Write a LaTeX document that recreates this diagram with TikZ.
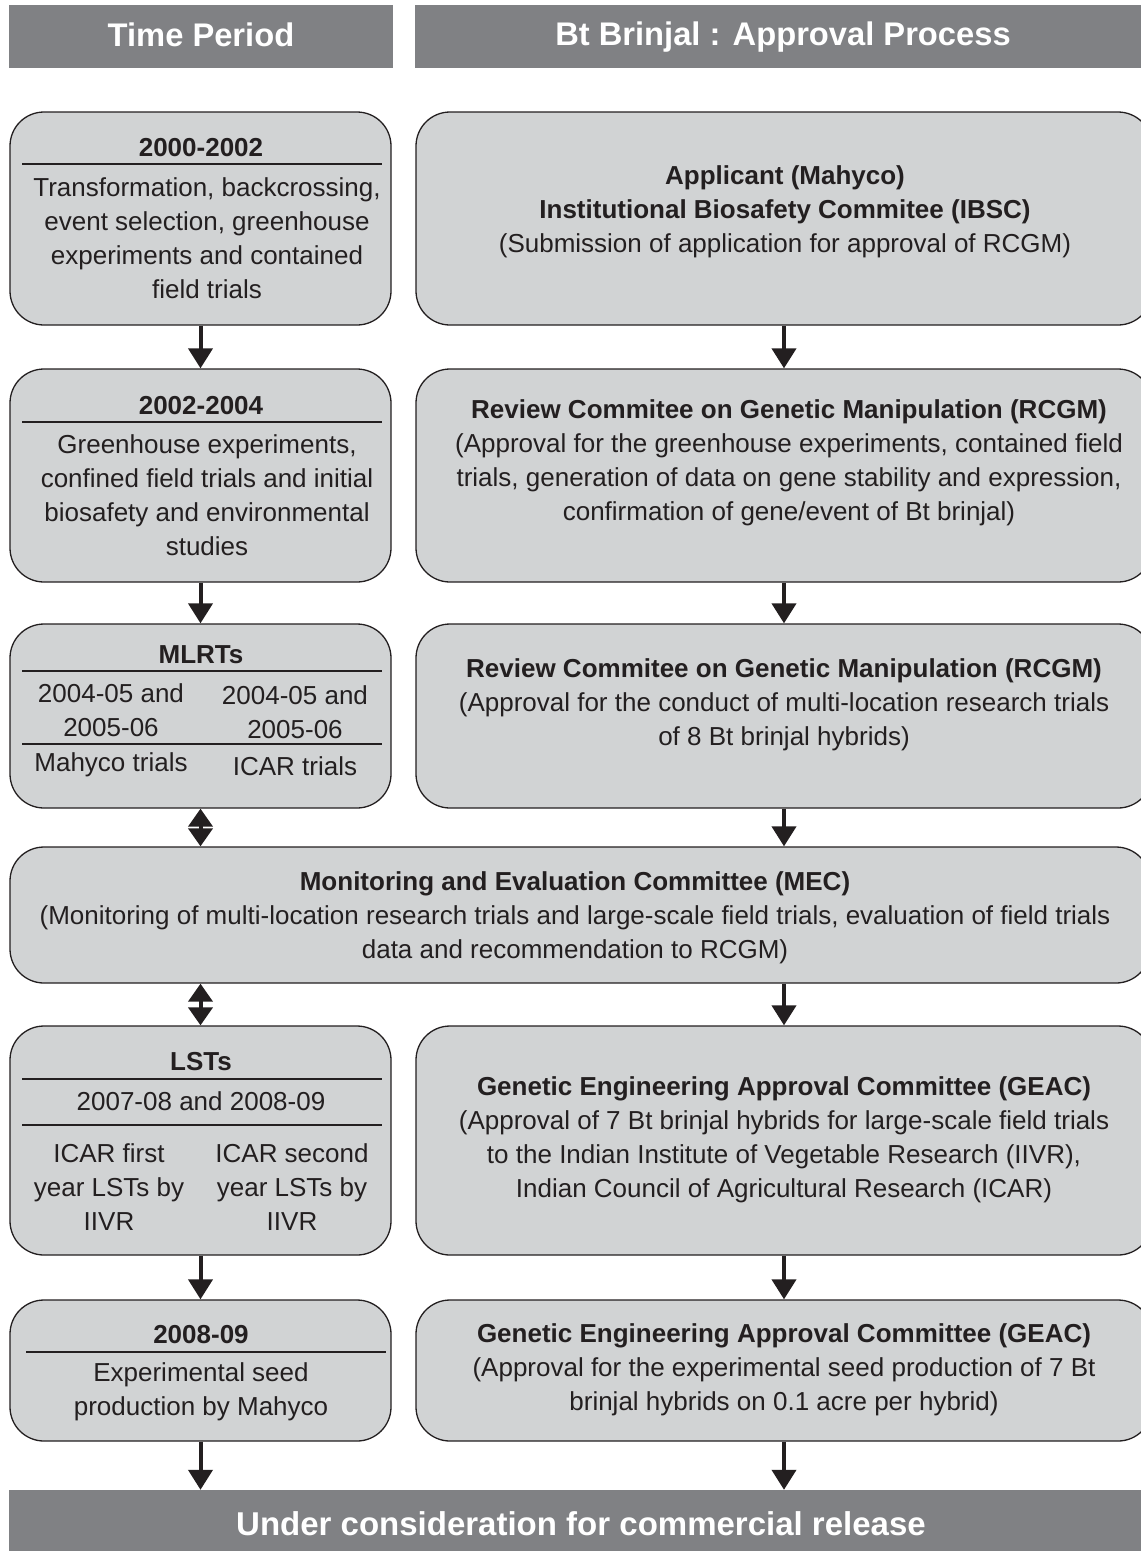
\documentclass[tikz,border=0pt]{standalone}
\usepackage{fontspec}
\setmainfont{Liberation Sans}
\usetikzlibrary{arrows.meta}
\definecolor{boxgray}{RGB}{209,211,212}
\definecolor{headgray}{RGB}{128,129,132}
\definecolor{ink}{RGB}{35,31,32}
\tikzset{
  box/.style={draw=ink, line width=1.3pt, fill=boxgray, rounded corners=34pt, inner sep=0pt},
  headbar/.style={fill=headgray, text=white, inner sep=0pt, font=\bfseries\fontsize{32.7}{38}\selectfont},
  txt/.style={align=center, text=ink, inner sep=0pt, yshift=-2.5pt, font=\fontsize{26}{34}\selectfont},
  ttl/.style={txt, yshift=2pt, font=\bfseries\fontsize{26}{34}\selectfont},
  rule/.style={draw=ink, line width=1.2pt},
  arr/.style={draw=ink, line width=4pt, -{Triangle[length=20pt,width=24pt]}},
  darr/.style={draw=ink, line width=4pt, {Triangle[length=18pt,width=24pt]}-{Triangle[length=18pt,width=24pt]}}
}
\begin{document}
\begin{tikzpicture}[x=1pt,y=-1pt]
    \useasboundingbox (0,0) rectangle (1141,1551);

    % Headers
    \node[headbar, minimum width=384pt, minimum height=63pt] (hleft) at (201,36.5) {};
    \node[text=white, font=\bfseries\fontsize{32.7}{38}\selectfont] (hltext) at (201,35) {Time Period};
    \node[headbar, minimum width=726pt, minimum height=63pt] (hright) at (778,36.5) {};
    \node[text=white, font=\bfseries\fontsize{32.7}{38}\selectfont] (hrtext) at (783,37) {Bt Brinjal : Approval Process};

    % Time period boxes
    \node[box, minimum width=381pt, minimum height=213pt] (p1) at (200.5,218.5) {};
    \node[box, minimum width=381pt, minimum height=213pt] (p2) at (200.5,475.5) {};
    \node[box, minimum width=381pt, minimum height=184pt] (p3) at (200.5,716) {};
    \node[box, minimum width=1140pt, minimum height=136pt] (mec) at (580,915) {};
    \node[box, minimum width=381pt, minimum height=229pt] (p5) at (200.5,1140.5) {};
    \node[box, minimum width=381pt, minimum height=141pt] (p6) at (200.5,1370.5) {};

    % Approval boxes
    \node[box, minimum width=736pt, minimum height=213pt] (r1) at (784,218.5) {};
    \node[box, minimum width=736pt, minimum height=213pt] (r2) at (784,475.5) {};
    \node[box, minimum width=736pt, minimum height=184pt] (r3) at (784,716) {};
    \node[box, minimum width=736pt, minimum height=229pt] (r5) at (784,1140.5) {};
    \node[box, minimum width=736pt, minimum height=141pt] (r6) at (784,1370.5) {};

    % Bottom bar
    \node[headbar, minimum width=1152pt, minimum height=62pt] (bar) at (585,1521) {};
    \node[text=white, font=\bfseries\fontsize{33}{38}\selectfont] (bartext) at (581,1524) {Under consideration for commercial release};

    % Left texts
    \node[ttl] (t1) at (201,147) {2000-2002};
    \draw[rule] (22,164) -- (382,164);
    \node[txt] (d1) at (207,236) {Transformation, backcrossing,\\event selection, greenhouse\\experiments and contained\\field trials};

    \node[ttl] (t2) at (201,405) {2002-2004};
    \draw[rule] (22,422) -- (382,422);
    \node[txt] (d2) at (207,493) {Greenhouse experiments,\\confined field trials and initial\\biosafety and environmental\\studies};

    \node[ttl] (t3) at (201,654) {MLRTs};
    \draw[rule] (22,671) -- (382,671);
    \node[txt] (d3a) at (111,708) {2004-05 and\\2005-06};
    \node[txt] (d3b) at (295,710) {2004-05 and\\2005-06};
    \draw[rule] (22,744) -- (382,744);
    \node[txt] (d3c) at (111,762) {Mahyco trials};
    \node[txt] (d3d) at (295,764) {ICAR trials};

    \node[ttl] (t5) at (201,1061) {LSTs};
    \draw[rule] (22,1079) -- (382,1079);
    \node[txt] (d5) at (201,1099) {2007-08 and 2008-09};
    \draw[rule] (22,1125) -- (382,1125);
    \node[txt] (d5a) at (109,1185) {ICAR first\\year LSTs by\\IIVR};
    \node[txt] (d5b) at (292,1185) {ICAR second\\year LSTs by\\IIVR};

    \node[ttl] (t6) at (201,1334) {2008-09};
    \draw[rule] (26,1352) -- (386,1352);
    \node[txt] (d6) at (201,1389) {Experimental seed\\production by Mahyco};

    % Right texts
    \node[txt] (a1) at (785,209.5) {\textbf{Applicant (Mahyco)}\\\textbf{Institutional Biosafety Commitee (IBSC)}\\(Submission of application for approval of RCGM)};
    \node[txt] (a2) at (789,460) {\textbf{Review Commitee on Genetic Manipulation (RCGM)}\\(Approval for the greenhouse experiments, contained field\\trials, generation of data on gene stability and expression,\\confirmation of gene/event of Bt brinjal)};
    \node[txt] (a3) at (784,702) {\textbf{Review Commitee on Genetic Manipulation (RCGM)}\\(Approval for the conduct of multi-location research trials\\of 8 Bt brinjal hybrids)};
    \node[txt] (a4) at (575,915) {\textbf{Monitoring and Evaluation Committee (MEC)}\\(Monitoring of multi-location research trials and large-scale field trials, evaluation of field trials\\data and recommendation to RCGM)};
    \node[txt] (a5) at (784,1137) {\textbf{Genetic Engineering Approval Committee (GEAC)}\\(Approval of 7 Bt brinjal hybrids for large-scale field trials\\to the Indian Institute of Vegetable Research (IIVR),\\Indian Council of Agricultural Research (ICAR)};
    \node[txt] (a6) at (784,1367) {\textbf{Genetic Engineering Approval Committee (GEAC)}\\(Approval for the experimental seed production of 7 Bt\\brinjal hybrids on 0.1 acre per hybrid)};

    % Arrows
    \draw[arr] (p1) -- (p2);
    \draw[arr] (r1) -- (r2);
    \draw[arr] (p2) -- (p3);
    \draw[arr] (r2) -- (r3);
    \draw[darr] (p3.south) -- (p3.south |- mec.north);
    \draw[arr] (r3.south) -- (r3.south |- mec.north);
    \draw[darr] (p5.north |- mec.south) -- (p5.north);
    \draw[arr] (r5.north |- mec.south) -- (r5.north);
    \draw[arr] (p5) -- (p6);
    \draw[arr] (r5) -- (r6);
    \draw[arr] (p6.south) -- (p6.south |- bar.north);
    \draw[arr] (r6.south) -- (r6.south |- bar.north);
\end{tikzpicture}
\end{document}
